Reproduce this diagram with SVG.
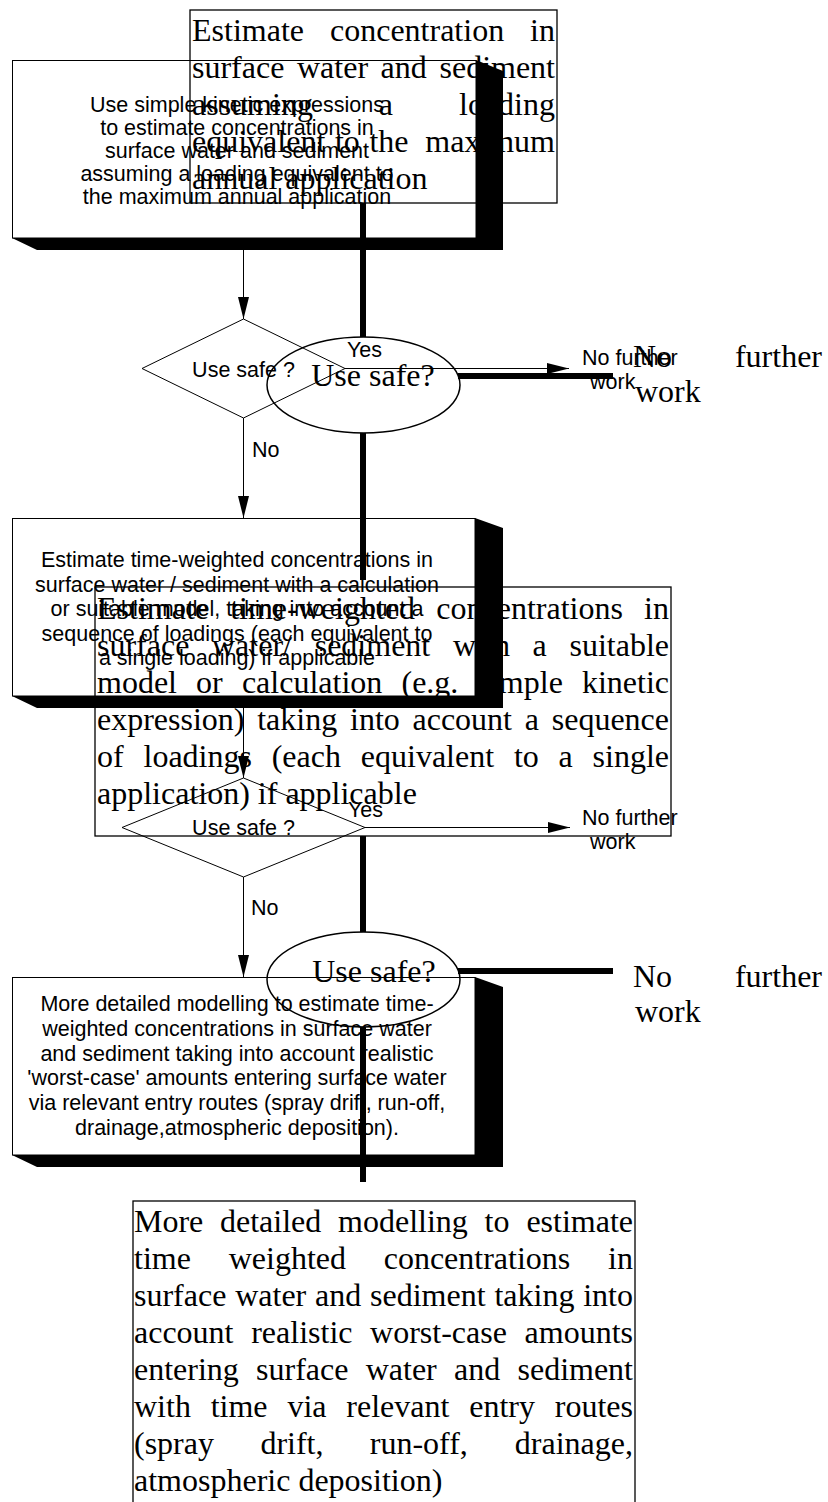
<svg xmlns="http://www.w3.org/2000/svg" width="828" height="1502" viewBox="0 0 828 1502">
<defs>
<marker id="ah" markerUnits="userSpaceOnUse" markerWidth="22" markerHeight="12" refX="22" refY="6" orient="auto"><path d="M0,0.5 L22,6 L0,11.5 z" fill="#000"/></marker>
<style>
.sans{font-family:"Liberation Sans",Arial,sans-serif;font-size:21.5px;fill:#000}
.mid{text-anchor:middle}
.end{text-anchor:end}
.serif{font-family:"Liberation Serif","Times New Roman",serif;font-size:32px;fill:#000}
.box{fill:none;stroke:#000;stroke-width:1}
.sbox{fill:none;stroke:#000;stroke-width:1.3}
.shadow{fill:#000;stroke:none}
.thin{fill:none;stroke:#000;stroke-width:1}
.thick{fill:none;stroke:#000;stroke-width:6}
</style>
</defs>
<rect width="828" height="1502" fill="#fff"/>

<!-- serif layer -->
<g id="s-boxA">
<rect class="sbox" x="190" y="10" width="367" height="193"/>
<text class="serif"><tspan x="192" y="41">Estimate</tspan><tspan x="330" y="41">concentration</tspan><tspan x="555" y="41" class="end">in</tspan></text>
<text class="serif"><tspan x="192" y="78">surface</tspan><tspan x="297" y="78">water</tspan><tspan x="380.6" y="78">and</tspan><tspan x="555" y="78" class="end">sediment</tspan></text>
<text class="serif"><tspan x="192" y="115">assuming</tspan><tspan x="378.8" y="115">a</tspan><tspan x="555" y="115" class="end">loading</tspan></text>
<text class="serif"><tspan x="192" y="152">equivalent</tspan><tspan x="334.9" y="152">to</tspan><tspan x="369.4" y="152">the</tspan><tspan x="555" y="152" class="end">maximum</tspan></text>
<text class="serif" x="192" y="189">annual application</text>
</g>

<g id="s-ell1">
<ellipse cx="363.5" cy="385" rx="96.5" ry="48" fill="none" stroke="#000" stroke-width="1.5"/>
<text class="serif mid" x="373" y="386">Use safe?</text>
</g>

<g id="s-end1">
<text class="serif"><tspan x="633" y="367">No</tspan><tspan x="822" y="367" class="end">further</tspan></text>
<text class="serif" x="635" y="402">work</text>
</g>

<g id="s-boxA2">
<rect class="sbox" x="95" y="587" width="576" height="249"/>
<text class="serif"><tspan x="97" y="619">Estimate</tspan><tspan x="230.2" y="619">time-weighted</tspan><tspan x="436.3" y="619">concentrations</tspan><tspan x="669" y="619" class="end">in</tspan></text>
<text class="serif"><tspan x="97" y="656">surface</tspan><tspan x="212" y="656">water/</tspan><tspan x="314.7" y="656">sediment</tspan><tspan x="453" y="656">with</tspan><tspan x="532.5" y="656">a</tspan><tspan x="669" y="656" class="end">suitable</tspan></text>
<text class="serif"><tspan x="97" y="693">model</tspan><tspan x="196.1" y="693">or</tspan><tspan x="241.9" y="693">calculation</tspan><tspan x="401.5" y="693">(e.g.</tspan><tspan x="477.5" y="693">simple</tspan><tspan x="669" y="693" class="end">kinetic</tspan></text>
<text class="serif"><tspan x="97" y="730">expression)</tspan><tspan x="257.2" y="730">taking</tspan><tspan x="350" y="730">into</tspan><tspan x="412.5" y="730">account</tspan><tspan x="524.8" y="730">a</tspan><tspan x="669" y="730" class="end">sequence</tspan></text>
<text class="serif"><tspan x="97" y="767">of</tspan><tspan x="143.5" y="767">loadings</tspan><tspan x="271.7" y="767">(each</tspan><tspan x="360.8" y="767">equivalent</tspan><tspan x="513.9" y="767">to</tspan><tspan x="558.6" y="767">a</tspan><tspan x="669" y="767" class="end">single</tspan></text>
<text class="serif" x="97" y="804">application) if applicable</text>
</g>

<g id="s-ell2">
<ellipse cx="363.5" cy="979.5" rx="96.5" ry="47.5" fill="none" stroke="#000" stroke-width="1.5"/>
<text class="serif mid" x="374" y="982">Use safe?</text>
</g>

<g id="s-end2">
<text class="serif"><tspan x="633" y="987">No</tspan><tspan x="822" y="987" class="end">further</tspan></text>
<text class="serif" x="635" y="1022">work</text>
</g>

<g id="s-boxA3">
<rect class="sbox" x="133" y="1201" width="502" height="320"/>
<text class="serif"><tspan x="134" y="1232">More</tspan><tspan x="220" y="1232">detailed</tspan><tspan x="338.1" y="1232">modelling</tspan><tspan x="484.6" y="1232">to</tspan><tspan x="633" y="1232" class="end">estimate</tspan></text>
<text class="serif"><tspan x="134" y="1269">time</tspan><tspan x="228.7" y="1269">weighted</tspan><tspan x="383.7" y="1269">concentrations</tspan><tspan x="633" y="1269" class="end">in</tspan></text>
<text class="serif"><tspan x="134" y="1306">surface</tspan><tspan x="235.2" y="1306">water</tspan><tspan x="315" y="1306">and</tspan><tspan x="370" y="1306">sediment</tspan><tspan x="494.4" y="1306">taking</tspan><tspan x="633" y="1306" class="end">into</tspan></text>
<text class="serif"><tspan x="134" y="1343">account</tspan><tspan x="251.2" y="1343">realistic</tspan><tspan x="370.1" y="1343">worst-case</tspan><tspan x="633" y="1343" class="end">amounts</tspan></text>
<text class="serif"><tspan x="134" y="1380">entering</tspan><tspan x="256.1" y="1380">surface</tspan><tspan x="365.7" y="1380">water</tspan><tspan x="454" y="1380">and</tspan><tspan x="633" y="1380" class="end">sediment</tspan></text>
<text class="serif"><tspan x="134" y="1417">with</tspan><tspan x="210.7" y="1417">time</tspan><tspan x="287.4" y="1417">via</tspan><tspan x="346.3" y="1417">relevant</tspan><tspan x="469.2" y="1417">entry</tspan><tspan x="633" y="1417" class="end">routes</tspan></text>
<text class="serif"><tspan x="134" y="1454">(spray</tspan><tspan x="260.4" y="1454">drift,</tspan><tspan x="369.8" y="1454">run-off,</tspan><tspan x="633" y="1454" class="end">drainage,</tspan></text>
<text class="serif" x="134" y="1491">atmospheric deposition)</text>
</g>

<!-- sans layer -->
<g id="n-box1">
<polygon class="shadow" points="476,60 503,71 503,250 37,250 12,238 476,238"/>
<rect class="box" x="12.5" y="60.5" width="463.5" height="177.5"/>
<text class="sans mid" x="237" y="112">Use simple kinetic expressions</text>
<text class="sans mid" x="237" y="135">to estimate concentrations in</text>
<text class="sans mid" x="237" y="158">surface water and sediment</text>
<text class="sans mid" x="237" y="181">assuming a loading equivalent to</text>
<text class="sans mid" x="237" y="204">the maximum annual application</text>
</g>

<g id="n-dec1">
<polygon class="thin" points="243.5,319 345,368.5 243.5,418 142,368.5"/>
<text class="sans mid" x="243.5" y="377">Use safe ?</text>
</g>

<g id="n-end1">
<text class="sans" x="582" y="365">No further</text>
<text class="sans" x="590" y="389">work</text>
</g>

<g id="n-box2">
<polygon class="shadow" points="475,518 503,528 503,708 37,708 12,696 475,696"/>
<rect class="box" x="12.5" y="518.5" width="462.5" height="177.5"/>
<text class="sans mid" x="237" y="567">Estimate time-weighted concentrations in</text>
<text class="sans mid" x="237" y="591.5">surface water / sediment with a calculation</text>
<text class="sans mid" x="237" y="616">or suitable model, taking into account a</text>
<text class="sans mid" x="237" y="640.5">sequence of loadings (each equivalent to</text>
<text class="sans mid" x="237" y="665">a single loading) if applicable</text>
</g>

<g id="n-dec2">
<polygon class="thin" points="243.5,778 365,827.5 243.5,877 122,827.5"/>
<text class="sans mid" x="243.5" y="835">Use safe ?</text>
</g>

<g id="n-end2">
<text class="sans" x="582" y="825">No further</text>
<text class="sans" x="590" y="849">work</text>
</g>

<g id="n-box3">
<polygon class="shadow" points="475,977 503,987 503,1167 37,1167 12,1155 475,1155"/>
<rect class="box" x="12.5" y="977.5" width="462.5" height="177.5"/>
<text class="sans mid" x="237" y="1011">More detailed modelling to estimate time-</text>
<text class="sans mid" x="237" y="1035.8">weighted concentrations in surface water</text>
<text class="sans mid" x="237" y="1060.6">and sediment taking into account realistic</text>
<text class="sans mid" x="237" y="1085.4">'worst-case' amounts entering surface water</text>
<text class="sans mid" x="237" y="1110.2">via relevant entry routes (spray drift, run-off,</text>
<text class="sans mid" x="237" y="1135">drainage,atmospheric deposition).</text>
</g>

<g id="connectors">
<line class="thin" x1="243.5" y1="250" x2="243.5" y2="319" marker-end="url(#ah)"/>
<line class="thin" x1="243.5" y1="418" x2="243.5" y2="518" marker-end="url(#ah)"/>
<line class="thin" x1="243.5" y1="708" x2="243.5" y2="778" marker-end="url(#ah)"/>
<line class="thin" x1="243.5" y1="877" x2="243.5" y2="977" marker-end="url(#ah)"/>
<line class="thin" x1="345" y1="368.5" x2="569" y2="368.5" marker-end="url(#ah)"/>
<line class="thin" x1="365" y1="827.5" x2="570" y2="827.5" marker-end="url(#ah)"/>
<text class="sans" x="347" y="357">Yes</text>
<text class="sans" x="252" y="457">No</text>
<text class="sans" x="348" y="817">Yes</text>
<text class="sans" x="251" y="915">No</text>
<line class="thick" x1="363" y1="203" x2="363" y2="337"/>
<line class="thick" x1="363" y1="433" x2="363" y2="580"/>
<line class="thick" x1="363" y1="836" x2="363" y2="932"/>
<line class="thick" x1="363" y1="1027" x2="363" y2="1182"/>
<line class="thick" x1="458" y1="376" x2="613" y2="376"/>
<line class="thick" x1="458" y1="971" x2="613" y2="971"/>
</g>
</svg>
